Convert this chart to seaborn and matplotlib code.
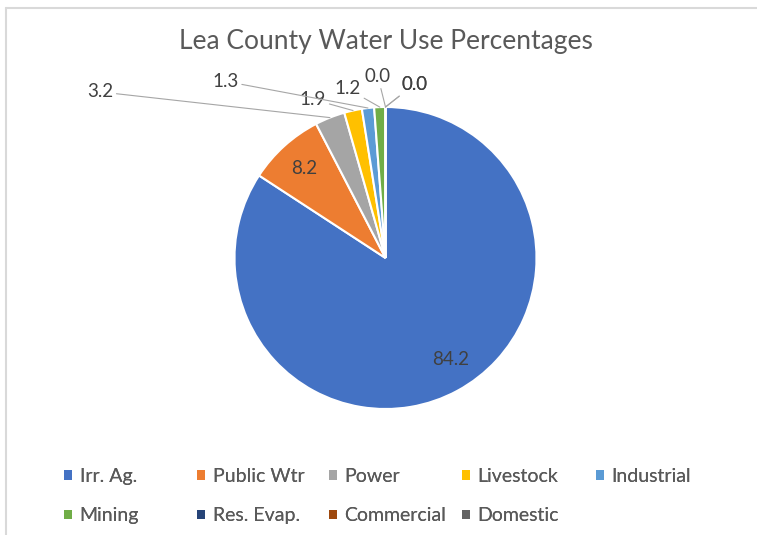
import matplotlib
matplotlib.use("Agg")
import matplotlib.pyplot as plt
from matplotlib.patches import Patch
from matplotlib.lines import Line2D
import numpy as np
import seaborn as sns

# Water use by sector, percent of county total
categories = ["Irr. Ag.", "Public Wtr", "Power", "Livestock", "Industrial",
              "Mining", "Res. Evap.", "Commercial", "Domestic"]
percentages = [84.2, 8.2, 3.2, 1.9, 1.3, 1.2, 0.0, 0.0, 0.0]
sector_colors = ["#4472C4", "#ED7D31", "#A5A5A5", "#FFC000", "#5B9BD5",
                 "#70AD47", "#264478", "#9E480E", "#636363"]
title = "Lea County Water Use Percentages"

# Positions (in pie-radius units) for the labels of the thin slices
outer_label_xy = {2: (-1.89, 1.10), 3: (-0.48, 1.05), 4: (-1.06, 1.17),
                  5: (-0.25, 1.12), 6: (-0.05, 1.20), 7: (0.19, 1.15),
                  8: (0.19, 1.15)}

W, H, DPI = 757, 535, 100
CX, CY, R = 385.5, 258.0, 151.0   # pie centre and radius in pixels

sns.set_theme(style="white")
plt.rcParams["font.family"] = ["Lato", "DejaVu Sans"]

palette = sns.color_palette(sector_colors)
fig = plt.figure(figsize=(W / DPI, H / DPI), dpi=DPI)
fig.patch.set_facecolor("white")
ax = fig.add_axes([0, 0, 1, 1])

wedges, _ = ax.pie(percentages, colors=palette, startangle=90,
                   counterclock=False, radius=1.0,
                   wedgeprops=dict(edgecolor="white", linewidth=1.5))
ax.set_xlim(-CX / R, (W - CX) / R)
ax.set_ylim(-(H - CY) / R, CY / R)
ax.set_aspect("auto")
ax.axis("off")

label_color = "#404040"
for i, (w, v) in enumerate(zip(wedges, percentages)):
    mid = (w.theta1 + w.theta2) / 2.0
    text = f"{v:.1f}"
    if i in outer_label_xy:
        m = np.deg2rad(mid)
        ax.annotate(text, xy=(np.cos(m), np.sin(m)),
                    xytext=outer_label_xy[i], ha="center", va="center",
                    fontsize=13.5, color=label_color,
                    arrowprops=dict(arrowstyle="-", color="#A6A6A6", lw=0.8,
                                    shrinkA=0, shrinkB=0))
    else:
        # the large slice's label sits a little toward its leading edge
        m = np.deg2rad(mid + (4.0 if i == 0 else 0.0))
        ax.text(0.8 * np.cos(m), 0.8 * np.sin(m), text, ha="center",
                va="center", fontsize=13.5, color=label_color)

fig.text(CX / W, 1 - 49 / H, title, ha="center", va="baseline",
         fontsize=19, color="#595959")

# Legend laid out as five fixed-position columns, two rows
columns = [[0, 5], [1, 6], [2, 7], [3, 8], [4]]
col_x = [64, 197, 329, 462, 596]
legend_top = 468
for idxs, x in zip(columns, col_x):
    handles = [Patch(facecolor=palette[i], edgecolor="none") for i in idxs]
    labels = [categories[i] for i in idxs]
    leg = fig.legend(handles, labels, loc="upper left",
                     bbox_to_anchor=(x / W, 1 - legend_top / H),
                     frameon=False, fontsize=14, borderpad=0, borderaxespad=0,
                     handlelength=0.4, handleheight=0.4, handletextpad=0.4,
                     labelspacing=1.15, labelcolor="#595959")
    fig.add_artist(leg)

# Light chart-area border along the top and left
fig.add_artist(Line2D([6 / W, 1], [1 - 8 / H, 1 - 8 / H], color="#D9D9D9",
                      lw=1.5, transform=fig.transFigure))
fig.add_artist(Line2D([6 / W, 6 / W], [0, 1 - 8 / H], color="#D9D9D9",
                      lw=1.5, transform=fig.transFigure))

fig.savefig("out.png", dpi=DPI)
